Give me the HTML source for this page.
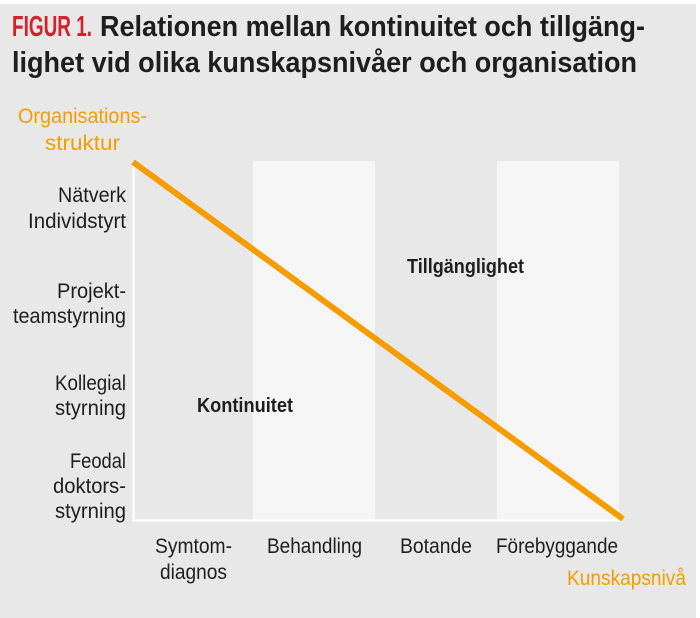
<!DOCTYPE html>
<html><head><meta charset="utf-8"><style>
html,body{margin:0;padding:0;background:#fff;}
svg{display:block;}
text{font-family:"Liberation Sans Narrow","Liberation Sans",sans-serif;}
</style></head><body>
<svg width="700" height="618" viewBox="0 0 700 618" xmlns="http://www.w3.org/2000/svg">
<rect x="0" y="0" width="700" height="618" fill="#fff"/>
<rect x="0" y="4" width="696" height="614" fill="#e8e8e8"/>
<rect x="253" y="161" width="122" height="359" fill="#f5f5f5"/>
<rect x="497" y="161" width="122" height="359" fill="#f5f5f5"/>
<line x1="133.5" y1="161" x2="133.5" y2="521" stroke="#fff" stroke-width="2"/>
<line x1="133" y1="520.5" x2="621" y2="520.5" stroke="#fff" stroke-width="2"/>
<line x1="133" y1="162" x2="623" y2="519" stroke="#f59d00" stroke-width="6"/>
<g font-weight="bold" font-size="29">
<text x="12" y="36" fill="#d5212b" textLength="80" lengthAdjust="spacingAndGlyphs">FIGUR 1.</text>
<text x="100" y="36" fill="#1e1e1e" textLength="545" lengthAdjust="spacingAndGlyphs" font-family="Liberation Sans, sans-serif">Relationen mellan kontinuitet och tillgäng-</text>
<text x="12" y="72" fill="#1e1e1e" textLength="625" lengthAdjust="spacingAndGlyphs" font-family="Liberation Sans, sans-serif">lighet vid olika kunskapsnivåer och organisation</text>
</g>
<g fill="#f59d00" font-size="21">
<text x="18" y="123" textLength="129" lengthAdjust="spacingAndGlyphs">Organisations-</text>
<text x="45" y="150" textLength="75" lengthAdjust="spacingAndGlyphs">struktur</text>
<text x="567" y="585" textLength="119" lengthAdjust="spacingAndGlyphs">Kunskapsnivå</text>
</g>
<g fill="#1e1e1e" font-size="21">
<text x="58" y="202" textLength="68" lengthAdjust="spacingAndGlyphs">Nätverk</text>
<text x="28" y="228" textLength="98" lengthAdjust="spacingAndGlyphs">Individstyrt</text>
<text x="57" y="298" textLength="69" lengthAdjust="spacingAndGlyphs">Projekt-</text>
<text x="13" y="323" textLength="113" lengthAdjust="spacingAndGlyphs">teamstyrning</text>
<text x="55" y="390" textLength="71" lengthAdjust="spacingAndGlyphs">Kollegial</text>
<text x="55" y="415" textLength="71" lengthAdjust="spacingAndGlyphs">styrning</text>
<text x="70" y="468" textLength="56" lengthAdjust="spacingAndGlyphs">Feodal</text>
<text x="53" y="493" textLength="73" lengthAdjust="spacingAndGlyphs">doktors-</text>
<text x="55" y="518" textLength="71" lengthAdjust="spacingAndGlyphs">styrning</text>
<text x="155" y="553" textLength="77" lengthAdjust="spacingAndGlyphs">Symtom-</text>
<text x="160" y="579" textLength="67" lengthAdjust="spacingAndGlyphs">diagnos</text>
<text x="267" y="553" textLength="95" lengthAdjust="spacingAndGlyphs">Behandling</text>
<text x="400" y="553" textLength="72" lengthAdjust="spacingAndGlyphs">Botande</text>
<text x="496" y="553" textLength="122" lengthAdjust="spacingAndGlyphs">Förebyggande</text>
</g>
<g fill="#1e1e1e" font-size="20" font-weight="bold">
<text x="197" y="412" textLength="96" lengthAdjust="spacingAndGlyphs">Kontinuitet</text>
<text x="407" y="273" textLength="117" lengthAdjust="spacingAndGlyphs">Tillgänglighet</text>
</g>
</svg>
</body></html>
